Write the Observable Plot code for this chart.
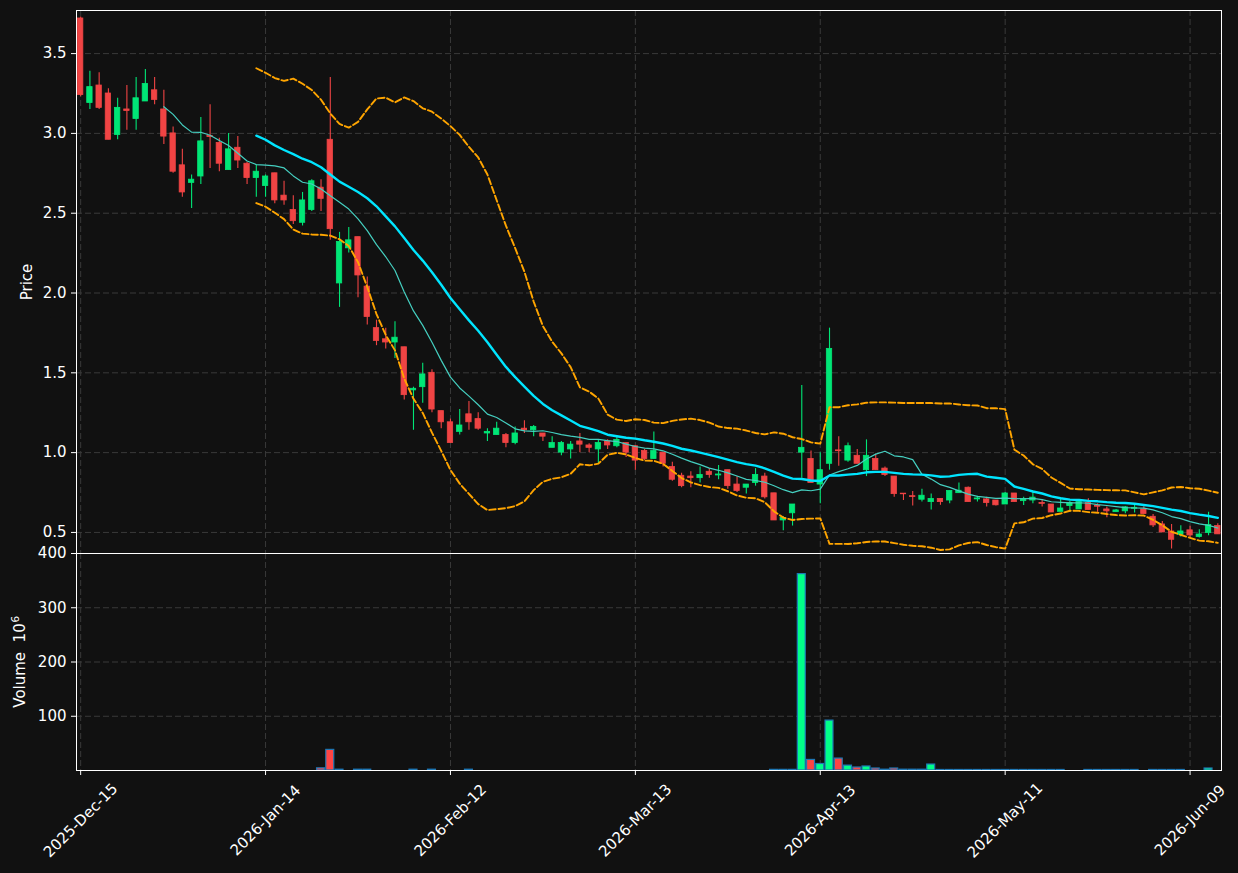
<!DOCTYPE html>
<html><head><meta charset="utf-8">
<script src="https://cdn.jsdelivr.net/npm/d3@7"></script>
<script src="https://cdn.jsdelivr.net/npm/@observablehq/plot@0.6"></script>
<style>
html,body{margin:0;padding:0;background:#111111;}
#chart{position:relative;width:1238px;height:873px;background:#111111;overflow:hidden;}
#chart svg{position:absolute;left:0;overflow:visible;}
</style></head><body><div id="chart"></div>
<script>
const opens = [3.72,3.19,3.30,3.25,2.99,3.15,3.09,3.20,3.27,3.15,
3.00,2.80,2.69,2.73,2.984,2.94,2.77,2.91,2.81,2.72,
2.67,2.75,2.61,2.52,2.44,2.52,2.66,2.96,2.06,2.28,
2.35,2.04,1.78,1.71,1.69,1.66,1.39,1.41,1.50,1.26,
1.19,1.13,1.24,1.21,1.12,1.11,1.11,1.06,1.15,1.14,
1.12,1.03,1.00,1.02,1.07,1.045,1.02,1.07,1.04,1.06,
1.04,1.01,0.96,1.00,0.91,0.855,0.85,0.84,0.88,0.857,
0.89,0.80,0.78,0.81,0.85,0.745,0.575,0.62,1.00,0.96,
0.80,0.93,1.014,0.95,0.98,0.89,0.96,0.90,0.85,0.743,
0.727,0.705,0.69,0.71,0.70,0.746,0.78,0.707,0.707,0.70,
0.675,0.744,0.696,0.70,0.684,0.675,0.629,0.665,0.644,0.684,
0.665,0.644,0.627,0.632,0.648,0.644,0.598,0.55,0.506,0.485,
0.513,0.471,0.496,0.54];
const highs = [3.73,3.39,3.38,3.28,3.22,3.30,3.35,3.40,3.35,3.27,
3.04,2.90,2.74,3.10,3.18,2.97,3.00,2.98,2.82,2.80,
2.74,2.75,2.70,2.61,2.63,2.71,2.71,3.35,2.38,2.41,
2.35,2.10,1.83,1.78,1.82,1.66,1.41,1.56,1.52,1.26,
1.21,1.27,1.32,1.25,1.15,1.19,1.12,1.16,1.20,1.17,
1.12,1.10,1.07,1.07,1.12,1.055,1.08,1.08,1.10,1.06,
1.045,1.02,1.13,1.00,0.94,0.87,0.88,0.91,0.90,0.92,
0.89,0.85,0.80,0.90,0.87,0.745,0.60,0.675,1.42,1.01,
1.00,1.78,1.10,1.06,1.02,1.08,0.99,0.91,0.85,0.743,
0.756,0.77,0.74,0.71,0.76,0.81,0.785,0.726,0.72,0.70,
0.75,0.744,0.721,0.76,0.705,0.675,0.715,0.694,0.694,0.711,
0.68,0.659,0.644,0.663,0.671,0.661,0.613,0.569,0.55,0.542,
0.538,0.517,0.627,0.554];
const lows = [3.23,3.15,3.15,2.96,2.96,3.02,3.02,3.20,3.18,2.93,
2.75,2.60,2.53,2.68,2.78,2.76,2.77,2.78,2.68,2.60,
2.60,2.56,2.55,2.43,2.42,2.51,2.51,2.33,1.91,2.25,
1.97,1.80,1.67,1.65,1.59,1.33,1.14,1.31,1.25,1.15,
1.06,1.11,1.14,1.14,1.07,1.11,1.03,1.05,1.12,1.10,
1.07,1.03,0.98,0.96,1.00,1.00,0.93,1.02,1.03,0.97,
0.89,0.95,0.96,0.91,0.82,0.78,0.78,0.81,0.84,0.83,
0.77,0.75,0.74,0.79,0.71,0.575,0.51,0.54,0.84,0.81,
0.68,0.89,0.915,0.94,0.93,0.85,0.89,0.85,0.72,0.70,
0.666,0.69,0.64,0.67,0.68,0.746,0.69,0.69,0.66,0.665,
0.675,0.69,0.669,0.68,0.659,0.625,0.629,0.627,0.644,0.64,
0.627,0.592,0.627,0.617,0.621,0.615,0.531,0.50,0.396,0.471,
0.467,0.465,0.479,0.488];
const closes = [3.24,3.29,3.16,2.96,3.16,3.14,3.22,3.31,3.21,2.98,
2.76,2.63,2.71,2.95,2.977,2.81,2.90,2.83,2.72,2.76,
2.73,2.58,2.58,2.45,2.58,2.70,2.59,2.40,2.32,2.33,
2.11,1.85,1.70,1.69,1.72,1.36,1.40,1.49,1.27,1.19,
1.06,1.17,1.19,1.15,1.13,1.15,1.06,1.12,1.14,1.16,
1.10,1.06,1.06,1.05,1.05,1.03,1.06,1.045,1.08,1.00,
0.95,0.96,1.01,0.93,0.83,0.79,0.84,0.86,0.86,0.863,
0.79,0.76,0.80,0.86,0.72,0.575,0.59,0.675,1.03,0.81,
0.89,1.65,1.009,1.04,0.93,0.98,0.89,0.86,0.74,0.739,
0.722,0.73,0.71,0.69,0.76,0.761,0.69,0.713,0.684,0.67,
0.744,0.69,0.709,0.718,0.679,0.625,0.65,0.684,0.69,0.64,
0.661,0.632,0.638,0.657,0.654,0.615,0.544,0.50,0.454,0.506,
0.481,0.487,0.546,0.488];
const volumes = [0,0,0,0,0,0,0,0,0,0,
0,0,0,0,0,0,0,0,0,0,
0,0,0,0,0,0,4,38,1.5,0,
1.5,1.5,0,0,0,0,1.5,0,1.5,0,
0,0,1.5,0,0,0,0,0,0,0,
0,0,0,0,0,0,0,0,0,0,
0,0,0,0,0,0,0,0,0,0,
0,0,0,0,0,1.2,1.2,1.2,362,19.5,
12,92,22,9,5.5,7.4,3.7,1.5,3.7,1.5,
1.5,1.5,11,1,1,1,1,1,1,1,
1,1,1,1,1,1,1,0,0,1,
1,1,1,1,1,0,1,1,1,1,
0,0,3.7,0];
const tickIndex = [0,20,40,60,80,100,120];
const tickLabels = ["2025-Dec-15","2026-Jan-14","2026-Feb-12","2026-Mar-13","2026-Apr-13","2026-May-11","2026-Jun-09"];
const priceTicks = [0.5,1.0,1.5,2.0,2.5,3.0,3.5];
const volumeTicks = [100,200,300,400];

const data = opens.map((o,i)=>({i, open:o, high:highs[i], low:lows[i], close:closes[i], volume:volumes[i], up: closes[i] >= o}));

const UP_C = "#00e676", DOWN_C = "#f04444";
const UP_V = "#00ff88", DOWN_V = "#ff4444";
const FONT = "'DejaVu Sans', sans-serif";
const FS = 15;
const xDomain = [-0.45, 123.4];
const hb = 0.29;
const GRID = {stroke:"#3a3a3a", strokeOpacity:1, strokeWidth:1, strokeDasharray:"6,3"};
const BAND = {stroke:"#ffa500", strokeWidth:1.9, strokeDasharray:"6.5,2.8"};
const popStd = v => { const m = d3.mean(v); return Math.sqrt(d3.mean(v, x => (x-m)*(x-m))); };
const style = {background:"transparent", color:"white", fontFamily:FONT, fontSize:FS+"px", overflow:"visible"};

const price = Plot.plot({
  width:1238, height:553, marginTop:10, marginBottom:0, marginLeft:76, marginRight:17,
  style,
  color:{type:"identity"},
  x:{domain:xDomain, axis:null},
  y:{domain:[0.368,3.77], axis:null},
  marks:[
    Plot.gridX(tickIndex, GRID),
    Plot.gridY(priceTicks, GRID),
    Plot.ruleX(data, {x:"i", y1:"low", y2:"high", stroke:d=>d.up?UP_C:DOWN_C, strokeWidth:1.1}),
    Plot.rect(data, {x1:d=>d.i-hb, x2:d=>d.i+hb, y1:"open", y2:"close", fill:d=>d.up?UP_C:DOWN_C, stroke:d=>d.up?UP_C:DOWN_C, strokeWidth:0.8}),
    Plot.lineY(data, Plot.windowY({k:10, anchor:"end", strict:true, reduce:"mean"}, {x:"i", y:"close", stroke:"#45cfc0", strokeWidth:1.2})),
    Plot.lineY(data, Plot.windowY({k:20, anchor:"end", strict:true, reduce:"mean"}, {x:"i", y:"close", stroke:"#00e5ff", strokeWidth:2.4})),
    Plot.lineY(data, Plot.windowY({k:20, anchor:"end", strict:true, reduce:v => d3.mean(v) + 2*popStd(v)}, {x:"i", y:"close", ...BAND})),
    Plot.lineY(data, Plot.windowY({k:20, anchor:"end", strict:true, reduce:v => d3.mean(v) - 2*popStd(v)}, {x:"i", y:"close", ...BAND})),
    Plot.axisY(priceTicks, {tickSize:5, tickPadding:5, tickFormat:d3.format(".1f"), fontSize:FS, stroke:"white", fill:"white", label:null}),
    Plot.text(["Price"], {frameAnchor:"left", dx:-49, rotate:-90, textAnchor:"middle", fill:"white", fontSize:FS}),
    Plot.frame({stroke:"white", strokeWidth:1})
  ]
});
price.style.top = "0px";

const vol = Plot.plot({
  width:1238, height:320, marginTop:0, marginBottom:103, marginLeft:76, marginRight:17,
  style,
  color:{type:"identity"},
  x:{domain:xDomain, axis:null},
  y:{domain:[0,400], axis:null},
  marks:[
    Plot.gridX(tickIndex, GRID),
    Plot.gridY(volumeTicks, GRID),
    Plot.rectY(data.filter(d=>d.volume>0), {x1:d=>d.i-0.43, x2:d=>d.i+0.43, y:"volume", fill:d=>d.up?UP_V:DOWN_V, stroke:"#1f77b4", strokeWidth:1.2}),
    Plot.axisY(volumeTicks, {tickSize:5, tickPadding:5, fontSize:FS, stroke:"white", fill:"white", label:null}),
    Plot.axisX(tickIndex, {tickSize:5, tickFormat:()=>"", stroke:"white", label:null}),
    Plot.text(tickIndex, {x:d=>d, text:(d,j)=>tickLabels[j], frameAnchor:"bottom", dy:50, rotate:-45, textAnchor:"middle", lineAnchor:"middle", fill:"white", fontSize:FS}),
    Plot.text(["Volume  10"], {frameAnchor:"left", dx:-56, dy:3.5, rotate:-90, textAnchor:"middle", fill:"white", fontSize:FS}),
    Plot.text(["6"], {frameAnchor:"left", dx:-61, dy:-39.5, rotate:-90, textAnchor:"start", fill:"white", fontSize:10.5}),
    Plot.frame({stroke:"white", strokeWidth:1})
  ]
});
vol.style.top = "553px";

const root = document.getElementById("chart");
root.appendChild(price);
root.appendChild(vol);
</script></body></html>
